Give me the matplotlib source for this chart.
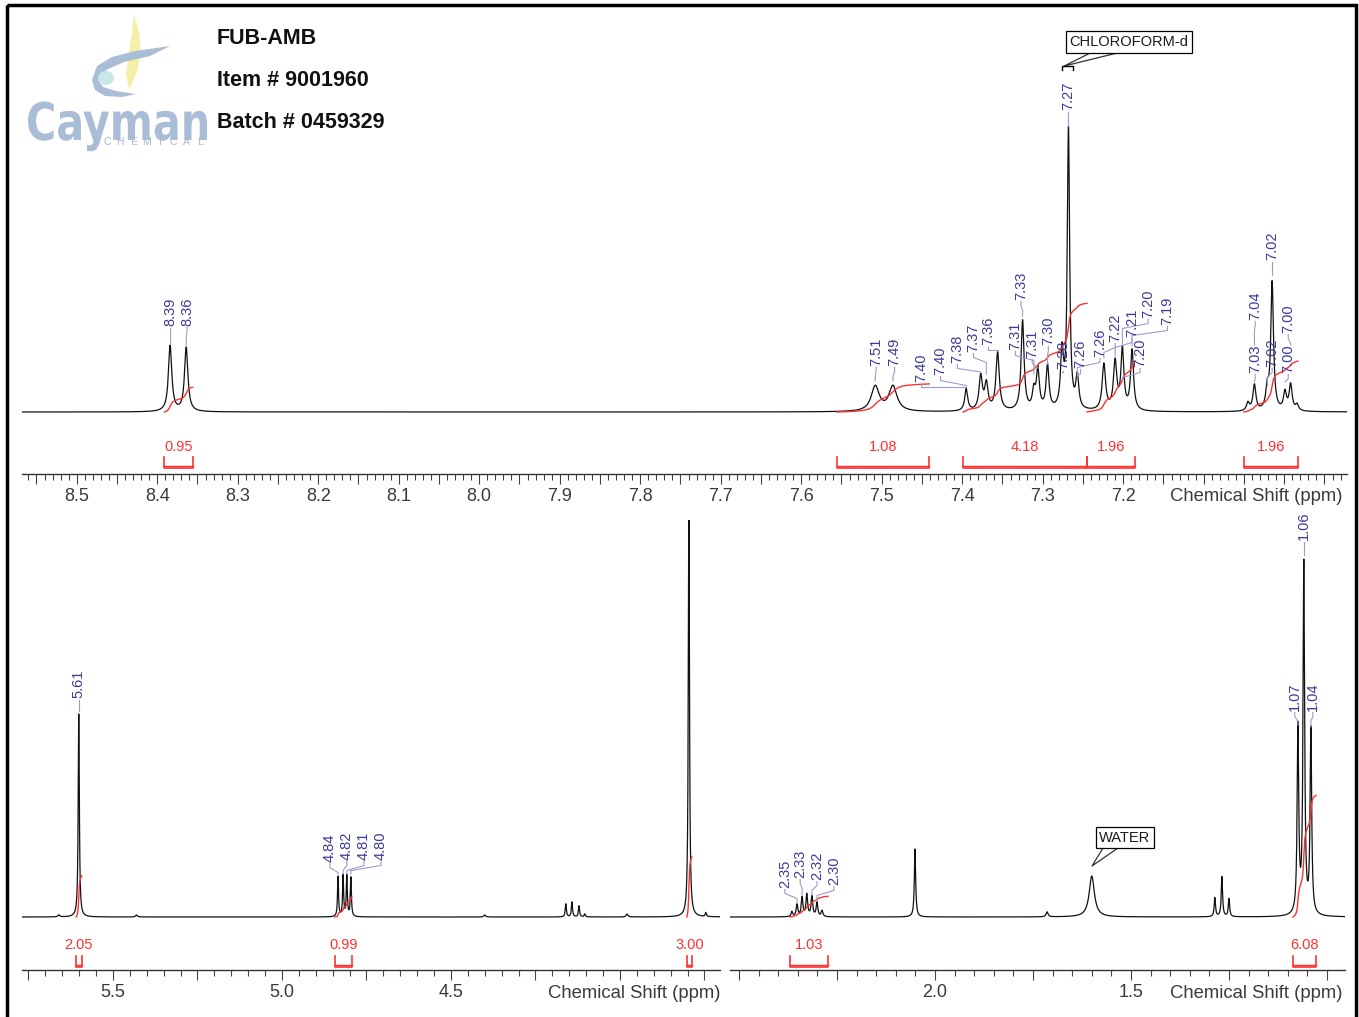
import numpy as np
import matplotlib
matplotlib.use('Agg')
import matplotlib.pyplot as plt
from matplotlib.ticker import MultipleLocator, FuncFormatter
from matplotlib.textpath import TextPath
from matplotlib.font_manager import FontProperties
from matplotlib.patches import PathPatch, Polygon, Ellipse, Rectangle
from matplotlib.transforms import Affine2D

plt.rcParams['font.family'] = ['Liberation Sans', 'DejaVu Sans']

W, H = 1359, 1017

# ---- peak tables: position (ppm), height, half width ----
top_ppm = [8.384, 8.364, 7.508, 7.486, 7.395, 7.377, 7.370, 7.356, 7.325,
           7.311, 7.306, 7.294, 7.276, 7.268, 7.257, 7.224, 7.210, 7.201,
           7.189, 7.045, 7.037, 7.021, 7.015, 6.999, 6.992, 6.984]
top_height = [66, 64, 25, 25, 22, 34, 26, 58, 90, 18, 40, 44, 56, 280, 32,
              46, 48, 60, 60, 8, 26, 20, 128, 18, 26, 6]
top_width = [0.0025, 0.0025, 0.006, 0.006, 0.0022, 0.0025, 0.0025, 0.0025,
             0.0022, 0.0022, 0.0022, 0.0022, 0.0022, 0.0017, 0.0022, 0.0025,
             0.0025, 0.0022, 0.0022, 0.0022, 0.0022, 0.0022, 0.002, 0.0022,
             0.0022, 0.0022]

bl_ppm = [5.601, 4.834, 4.819, 4.808, 4.796, 4.160, 4.142, 4.121, 4.104,
          3.979, 3.796, 3.746, 5.66, 5.43, 4.40]
bl_height = [203, 40, 41, 41, 39, 13, 15, 11, 3, 3, 420, 4, 2, 2, 2]
bl_width = [0.002, 0.0018, 0.0018, 0.0018, 0.0018, 0.002, 0.002, 0.002,
            0.002, 0.003, 0.002, 0.002, 0.003, 0.003, 0.003]

br_ppm = [2.365, 2.352, 2.339, 2.327, 2.314, 2.301, 2.288, 2.051, 1.714,
          1.600, 1.286, 1.268, 1.250, 1.074, 1.059, 1.041]
br_height = [5, 12, 19, 22, 20, 14, 6, 68, 5, 41, 19, 40, 18, 186, 350, 184]
br_width = [0.0025, 0.0025, 0.0025, 0.0025, 0.0025, 0.0025, 0.0025, 0.002,
            0.003, 0.008, 0.002, 0.002, 0.002, 0.0024, 0.0024, 0.0024]

# ---- integrals: from, to (ppm), value ----
top_int_hi = [8.391, 7.556, 7.399, 7.245, 7.050]
top_int_lo = [8.356, 7.441, 7.245, 7.185, 6.983]
top_int_val = [0.95, 1.08, 4.18, 1.96, 1.96]

bl_int_hi = [5.609, 4.843, 3.802]
bl_int_lo = [5.592, 4.793, 3.787]
bl_int_val = [2.05, 0.99, 3.00]

br_int_hi = [2.370, 1.087]
br_int_lo = [2.273, 1.028]
br_int_val = [1.03, 6.08]

# ---- peak labels: text, peak, label x, label bottom, leader end ----
top_lab_text = ['8.39', '8.36', '7.51', '7.49', '7.40', '7.40', '7.38', '7.37',
                '7.36', '7.31', '7.33', '7.31', '7.30', '7.28', '7.27', '7.26',
                '7.26', '7.22', '7.21', '7.20', '7.19', '7.20', '7.04', '7.03',
                '7.02', '7.02', '7.00', '7.00']
top_lab_peak = [8.384, 8.364, 7.508, 7.486, 7.395, 7.395, 7.377, 7.370, 7.356,
                7.311, 7.325, 7.306, 7.294, 7.276, 7.268, 7.257, 7.257, 7.224,
                7.210, 7.201, 7.189, 7.201, 7.037, 7.037, 7.015, 7.021, 6.992,
                6.999]
top_lab_x = [8.384, 8.363, 7.507, 7.484, 7.451, 7.427, 7.406, 7.386, 7.368,
             7.334, 7.327, 7.313, 7.293, 7.275, 7.268, 7.253, 7.229, 7.210,
             7.189, 7.169, 7.145, 7.179, 7.036, 7.036, 7.015, 7.015, 6.995,
             6.995]
top_lab_y = [86, 86, 46, 46, 30, 37, 49, 60, 67, 62, 112, 54, 67, 43, 302, 44,
             55, 70, 75, 94, 87, 45, 92, 39, 152, 45, 79, 39]
top_lab_stop = [69, 67, 31, 31, 25, 25, 40, 38, 62, 38, 96, 44, 48, 40, 286,
                36, 36, 54, 56, 68, 66, 30, 67, 30, 137, 26, 67, 30]

bl_lab_text = ['5.61', '4.84', '4.82', '4.81', '4.80']
bl_lab_peak = [5.601, 4.834, 4.819, 4.808, 4.796]
bl_lab_x = [5.601, 4.858, 4.808, 4.757, 4.707]
bl_lab_y = [219, 55, 57, 57, 57]
bl_lab_stop = [206, 43, 43, 43, 43]

br_lab_text = ['2.35', '2.33', '2.32', '2.30', '1.07', '1.06', '1.04']
br_lab_peak = [2.352, 2.339, 2.314, 2.301, 1.074, 1.059, 1.041]
br_lab_x = [2.383, 2.344, 2.301, 2.258, 1.082, 1.059, 1.036]
br_lab_y = [29, 39, 37, 32, 206, 377, 206]
br_lab_stop = [14, 22, 22, 17, 192, 362, 190]

top_ticklabels = [8.5, 8.4, 8.3, 8.2, 8.1, 8.0, 7.9, 7.8, 7.7, 7.6, 7.5, 7.4, 7.3, 7.2]
bl_ticklabels = [5.5, 5.0, 4.5]
br_ticklabels = [2.0, 1.5]

LABEL_BLUE = '#3b3b98'
LEADER = '#9c9cc9'
RED = '#ff3030'


def spectrum(x, ppm, height, width):
    y = np.zeros_like(x)
    for p, h, w in zip(ppm, height, width):
        y += h / (1.0 + ((x - p) / w) ** 2)
    return y


def px_axes(fig, x0, y0, x1, y1):
    return fig.add_axes([x0 / W, 1 - y1 / H, (x1 - x0) / W, (y1 - y0) / H])


def setup_axis(ax, xlim, ylim, major, minor, labels):
    ax.set_xlim(*xlim)
    ax.set_ylim(*ylim)
    for s in ['top', 'left', 'right']:
        ax.spines[s].set_visible(False)
    ax.spines['bottom'].set_color('#333333')
    ax.spines['bottom'].set_linewidth(1.0)
    ax.set_yticks([])
    ax.patch.set_alpha(0)
    ax.xaxis.set_major_locator(MultipleLocator(major))
    ax.xaxis.set_minor_locator(MultipleLocator(minor))

    def fmt(v, pos):
        for t in labels:
            if abs(v - t) < 1e-6:
                return '%.1f' % t
        return ''
    ax.xaxis.set_major_formatter(FuncFormatter(fmt))
    ax.tick_params(axis='x', which='major', length=7, width=0.8, color='#444444',
                   labelsize=13, labelcolor='#3a3a3a', pad=3)
    ax.tick_params(axis='x', which='minor', length=4, width=0.8, color='#444444')


def draw_integrals(ax, x, y, his, los, vals, scale, ylab, ytop, ybot):
    for hi, lo, v in zip(his, los, vals):
        m = (x >= lo) & (x <= hi)
        xs = x[m][::-1]
        c = np.cumsum(y[m][::-1])
        c = c / c[-1] * v * scale
        ax.plot(xs, c, color=RED, lw=1.0, zorder=3)
        ax.plot([hi, hi, lo, lo], [ytop, ybot, ybot, ytop], color=RED, lw=1.2)
        ax.plot([hi, lo], [ybot + 2.5, ybot + 2.5], color=RED, lw=1.0)
        ax.text((hi + lo) / 2, ylab, '%.2f' % v, color=RED, fontsize=10.5,
                ha='center', va='center')


def draw_labels(ax, texts, peaks, xs, ys, stops):
    for t, p, lx, ly, st in zip(texts, peaks, xs, ys, stops):
        y0 = ly - 1.5
        y1 = max(y0 - 4, st)
        y2 = max(y1 - 5, st)
        ax.plot([lx, lx, p, p], [y0, y1, y2, st], color=LEADER, lw=0.8, zorder=4)
        ax.text(lx, ly, t, rotation=90, ha='center', va='bottom', fontsize=10.5,
                color=LABEL_BLUE, zorder=5)


def main():
    fig = plt.figure(figsize=(W / 100, H / 100), dpi=100)

    # top panel: aromatic region
    ax1 = px_axes(fig, 22, 10, 1347, 474)
    x1 = np.linspace(6.90, 8.60, 40000)
    y1 = spectrum(x1, top_ppm, top_height, top_width)
    ax1.plot(x1, y1, color='#111111', lw=0.9, zorder=2)
    setup_axis(ax1, (8.568, 6.922), (-62, 402), 0.05, 0.01, top_ticklabels)
    draw_integrals(ax1, x1, y1, top_int_hi, top_int_lo, top_int_val, 26, -35, -45, -56)
    draw_labels(ax1, top_lab_text, top_lab_peak, top_lab_x, top_lab_y, top_lab_stop)

    # solvent annotation
    ax1.text(7.1932, 370, 'CHLOROFORM-d', fontsize=10.5, color='#1a1a1a',
             ha='center', va='center',
             bbox=dict(boxstyle='square,pad=0.25', fc='white', ec='black', lw=0.9))
    ax1.plot([7.241, 7.2733, 7.2075], [359, 346, 359], color='#333333', lw=0.9)
    ax1.plot([7.2758, 7.2758, 7.2621, 7.2621], [342, 346, 346, 342], color='black', lw=1.0)

    # bottom left panel
    ax2 = px_axes(fig, 22, 520, 720, 970)
    x2 = np.linspace(3.69, 5.78, 30000)
    y2 = spectrum(x2, bl_ppm, bl_height, bl_width)
    ax2.plot(x2, y2, color='#111111', lw=0.9, zorder=2)
    setup_axis(ax2, (5.769, 3.704), (-53, 397), 0.25, 0.05, bl_ticklabels)
    draw_integrals(ax2, x2, y2, bl_int_hi, bl_int_lo, bl_int_val, 20, -28, -39, -50)
    draw_labels(ax2, bl_lab_text, bl_lab_peak, bl_lab_x, bl_lab_y, bl_lab_stop)

    # bottom right panel
    ax3 = px_axes(fig, 730, 520, 1345, 970)
    x3 = np.linspace(0.94, 2.53, 30000)
    y3 = spectrum(x3, br_ppm, br_height, br_width)
    ax3.plot(x3, y3, color='#111111', lw=0.9, zorder=2)
    setup_axis(ax3, (2.523, 0.954), (-53, 397), 0.25, 0.05, br_ticklabels)
    draw_integrals(ax3, x3, y3, br_int_hi, br_int_lo, br_int_val, 20, -28, -39, -50)
    draw_labels(ax3, br_lab_text, br_lab_peak, br_lab_x, br_lab_y, br_lab_stop)

    ax3.text(1.5153, 79.5, 'WATER', fontsize=10.5, color='#1a1a1a',
             ha='center', va='center',
             bbox=dict(boxstyle='square,pad=0.25', fc='white', ec='black', lw=0.9))
    ax3.plot([1.5714, 1.5995, 1.5332], [69, 51, 69], color='#333333', lw=0.9)

    # axis titles at the end of each tick row
    for xr, yc in [(1343, 496), (720, 994), (1343, 994)]:
        fig.text(xr / W, 1 - yc / H, 'Chemical Shift (ppm)', fontsize=13.3,
                 color='#3a3a3a', ha='right', va='center')

    # header text
    for yc, s in [(39, 'FUB-AMB'), (81, 'Item # 9001960'), (122, 'Batch # 0459329')]:
        fig.text(217 / W, 1 - yc / H, s, fontsize=15.5, fontweight='bold',
                 color='#111111', ha='left', va='center')

    # overlay in pixel coordinates for logo and frame
    ov = fig.add_axes([0, 0, 1, 1])
    ov.set_xlim(0, W)
    ov.set_ylim(H, 0)
    ov.axis('off')
    ov.patch.set_alpha(0)

    ov.add_patch(Polygon([(134, 14), (139, 32), (141, 52), (137, 72), (129, 90),
                          (126, 74), (129, 52), (132, 32)], closed=True,
                         fc='#f6f0a6', ec='none'))
    ov.add_patch(Polygon([(92, 80), (97, 66), (112, 57), (135, 51), (170, 46),
                          (150, 56), (124, 62), (106, 70), (98, 80)], closed=True,
                         fc='#aabdd6', ec='none'))
    ov.add_patch(Ellipse((106, 78), 16, 14, fc='#c9e8e8', ec='none'))
    ov.add_patch(Polygon([(92, 80), (95, 90), (105, 96), (122, 97), (136, 94),
                          (116, 91), (103, 87), (98, 80)], closed=True,
                         fc='#aabdd6', ec='none'))

    tp = TextPath((0, 0), 'Cayman', size=1,
                  prop=FontProperties(family='DejaVu Sans', weight='bold'))
    bb = tp.get_extents()
    sx = 179 / bb.width
    tr = Affine2D().translate(-bb.x0, 0).scale(sx, -52).translate(28, 140)
    ov.add_patch(PathPatch(tr.transform_path(tp), fc='#aabdd6', ec='none'))
    for i, ch in enumerate('CHEMICAL'):
        ov.text(107 + i * 13.3, 142, ch, fontsize=7.5, color='#a9b7c9',
                ha='center', va='center')

    ov.add_patch(Rectangle((7, 5), 1349, 1030, fill=False, ec='black', lw=2.5))

    fig.savefig('out.png', dpi=100)


if __name__ == '__main__':
    main()
